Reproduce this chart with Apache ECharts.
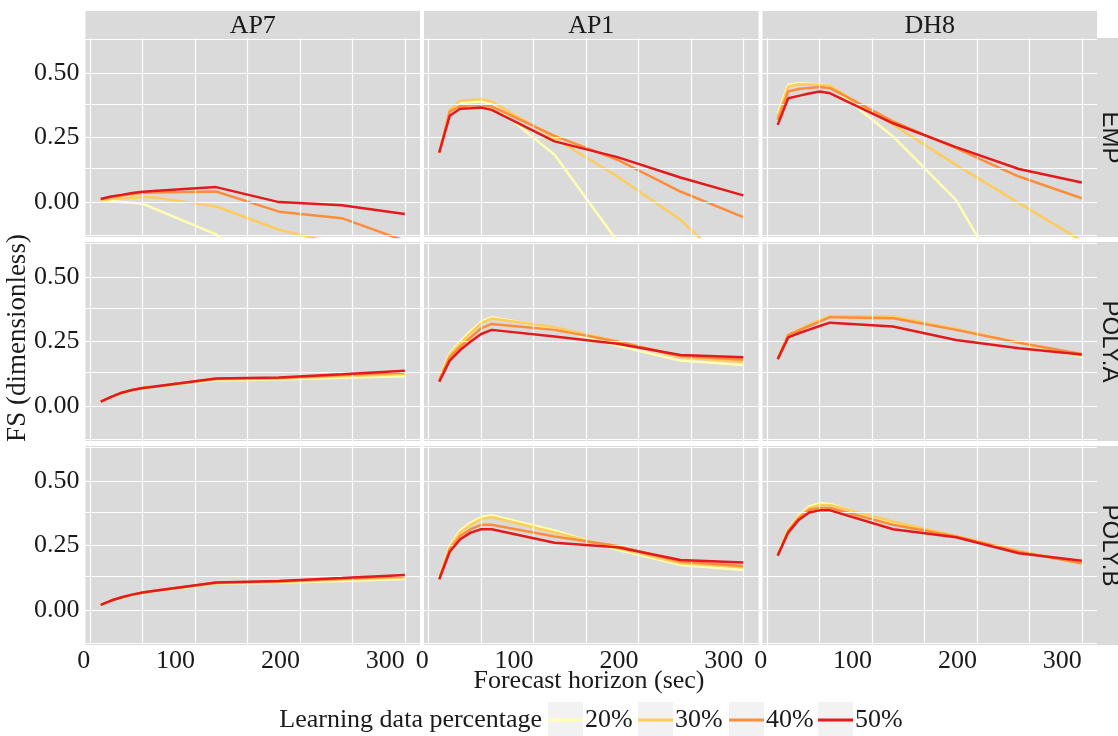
<!DOCTYPE html>
<html><head><meta charset="utf-8">
<script src="https://cdn.jsdelivr.net/npm/echarts@6/dist/echarts.min.js"></script>
<style>html,body{margin:0;padding:0;background:#fff}#c{width:1118px;height:736px}</style>
</head><body><div id="c"></div>
<script>
const horizons = [10, 20, 30, 40, 50, 60, 120, 180, 240, 300];
const sites = ['AP7', 'AP1', 'DH8'];
const methods = ['EMP', 'POLY.A', 'POLY.B'];
const pctLabels = ['20%', '30%', '40%', '50%'];
const pctColors = ['#FFFFB2', '#FECC5C', '#FD8D3C', '#E31A1C'];
const xTicks = [0, 100, 200, 300];
const yTicks = [0, 0.25, 0.5];
const xGridVals = [0, 50, 100, 150, 200, 250, 300];
const yGridVals = [-0.125, 0, 0.125, 0.25, 0.375, 0.5, 0.625];

// each panel: rows = 20%, 30%, 40%, 50%
const EMP_AP7 = [
  [0.004, 0.003, 0.0, -0.002, -0.006, -0.023, -0.125, -0.32, -0.5, -0.7],
  [0.006, 0.012, 0.015, 0.017, 0.019, 0.019, -0.017, -0.107, -0.165, -0.24],
  [0.012, 0.02, 0.026, 0.031, 0.035, 0.037, 0.041, -0.037, -0.062, -0.15],
  [0.012, 0.022, 0.028, 0.035, 0.04, 0.043, 0.058, 0.0, -0.012, -0.046]
];
const EMP_AP1 = [
  [0.19, 0.353, 0.383, 0.387, 0.389, 0.38, 0.183, -0.152, -0.5, -0.85],
  [0.19, 0.357, 0.392, 0.395, 0.398, 0.389, 0.247, 0.099, -0.068, -0.3],
  [0.19, 0.35, 0.372, 0.374, 0.376, 0.37, 0.256, 0.164, 0.041, -0.058],
  [0.192, 0.334, 0.361, 0.363, 0.366, 0.357, 0.235, 0.174, 0.095, 0.026]
];
const EMP_DH8 = [
  [0.344, 0.454, 0.46, 0.458, 0.456, 0.45, 0.254, 0.009, -0.41, -0.8],
  [0.331, 0.447, 0.456, 0.455, 0.454, 0.45, 0.3, 0.144, -0.004, -0.15],
  [0.318, 0.428, 0.438, 0.442, 0.445, 0.441, 0.312, 0.209, 0.099, 0.015],
  [0.299, 0.402, 0.411, 0.42, 0.428, 0.421, 0.305, 0.213, 0.128, 0.076]
];
const POLYA_AP7 = [
  [0.017, 0.035, 0.05, 0.06, 0.068, 0.073, 0.1, 0.103, 0.11, 0.116],
  [0.017, 0.036, 0.051, 0.061, 0.069, 0.074, 0.104, 0.107, 0.116, 0.124],
  [0.017, 0.036, 0.052, 0.062, 0.07, 0.075, 0.106, 0.109, 0.12, 0.13],
  [0.017, 0.036, 0.052, 0.062, 0.07, 0.075, 0.107, 0.111, 0.123, 0.137]
];
const POLYA_AP1 = [
  [0.111, 0.204, 0.25, 0.29, 0.327, 0.344, 0.301, 0.233, 0.176, 0.159],
  [0.107, 0.198, 0.243, 0.282, 0.321, 0.339, 0.305, 0.25, 0.189, 0.171],
  [0.1, 0.189, 0.23, 0.266, 0.301, 0.318, 0.295, 0.25, 0.194, 0.179],
  [0.094, 0.176, 0.217, 0.25, 0.279, 0.295, 0.269, 0.241, 0.198, 0.189]
];
const POLYA_DH8 = [
  [0.185, 0.277, 0.295, 0.312, 0.33, 0.346, 0.343, 0.297, 0.246, 0.191],
  [0.185, 0.277, 0.296, 0.315, 0.333, 0.349, 0.347, 0.298, 0.246, 0.195],
  [0.184, 0.275, 0.293, 0.31, 0.327, 0.344, 0.34, 0.295, 0.245, 0.202],
  [0.181, 0.266, 0.282, 0.296, 0.31, 0.323, 0.308, 0.256, 0.224, 0.2]
];
const POLYB_AP7 = [
  [0.02, 0.036, 0.048, 0.058, 0.066, 0.072, 0.102, 0.106, 0.113, 0.12],
  [0.02, 0.037, 0.049, 0.059, 0.067, 0.073, 0.104, 0.109, 0.118, 0.126],
  [0.02, 0.037, 0.05, 0.06, 0.068, 0.074, 0.106, 0.111, 0.121, 0.131],
  [0.02, 0.037, 0.05, 0.06, 0.068, 0.074, 0.107, 0.113, 0.124, 0.136]
];
const POLYB_AP1 = [
  [0.128, 0.248, 0.309, 0.339, 0.36, 0.367, 0.308, 0.233, 0.175, 0.155],
  [0.126, 0.243, 0.3, 0.33, 0.352, 0.36, 0.3, 0.239, 0.181, 0.166],
  [0.123, 0.235, 0.287, 0.313, 0.33, 0.33, 0.285, 0.248, 0.188, 0.171],
  [0.119, 0.226, 0.274, 0.3, 0.313, 0.313, 0.261, 0.243, 0.194, 0.184]
];
const POLYB_DH8 = [
  [0.22, 0.313, 0.365, 0.401, 0.414, 0.411, 0.334, 0.282, 0.226, 0.184],
  [0.218, 0.31, 0.36, 0.395, 0.407, 0.407, 0.343, 0.287, 0.229, 0.179],
  [0.214, 0.307, 0.356, 0.388, 0.395, 0.395, 0.33, 0.285, 0.226, 0.181],
  [0.21, 0.3, 0.349, 0.378, 0.386, 0.386, 0.313, 0.282, 0.22, 0.191]
];
const panels = [
  [EMP_AP7, EMP_AP1, EMP_DH8],
  [POLYA_AP7, POLYA_AP1, POLYA_DH8],
  [POLYB_AP7, POLYB_AP1, POLYB_DH8]
];

// layout
const colLeft = [85.5, 424, 762.5];
const panelW = 334.5;
const rowTop = [38, 242, 446];
const panelH = 199;
const serif = 'Liberation Serif';
const sans = 'Liberation Sans';
const textCol = '#1a1a1a';
const panelBg = '#dadada';

const grids = [], xAxes = [], yAxes = [], series = [], graphics = [];
for (let r = 0; r < 3; r++) {
  for (let c = 0; c < 3; c++) {
    const idx = r * 3 + c;
    grids.push({
      left: colLeft[c], top: rowTop[r], width: panelW, height: panelH,
      show: true, backgroundColor: panelBg, borderWidth: 0, containLabel: false
    });
    xAxes.push({
      type: 'value', gridIndex: idx, min: -4.5, max: 314.5,
      axisLine: { show: false }, splitLine: { show: false },
      axisTick: { show: r === 2, customValues: xTicks, length: 4, lineStyle: { color: '#333', width: 1 } },
      axisLabel: {
        show: r === 2, customValues: xTicks, margin: 3, align: 'right',
        fontFamily: serif, fontSize: 26, color: textCol,
        formatter: v => String(v)
      }
    });
    yAxes.push({
      type: 'value', gridIndex: idx, min: -0.135, max: 0.635,
      axisLine: { show: false }, splitLine: { show: false },
      axisTick: { show: c === 0, customValues: yTicks, length: 4, lineStyle: { color: '#333', width: 1 } },
      axisLabel: {
        show: c === 0, customValues: yTicks, margin: 6,
        fontFamily: serif, fontSize: 26, color: textCol,
        formatter: v => v.toFixed(2)
      }
    });
    // grid lines
    series.push({
      type: 'line', xAxisIndex: idx, yAxisIndex: idx, data: [], z: 1,
      silent: true, animation: false,
      markLine: {
        silent: true, symbol: ['none', 'none'], label: { show: false }, animation: false,
        lineStyle: { color: '#ffffff', width: 1.2, type: 'solid', opacity: 1 },
        emphasis: { disabled: true },
        data: xGridVals.map(v => ({ xAxis: v })).concat(yGridVals.map(v => ({ yAxis: v })))
      }
    });
    const pd = panels[r][c];
    for (let k = 0; k < 4; k++) {
      series.push({
        name: pctLabels[k], type: 'line', xAxisIndex: idx, yAxisIndex: idx,
        data: horizons.map((h, i) => [h, pd[k][i]]),
        showSymbol: false, symbol: 'none', smooth: false, clip: true, z: 2 + k,
        lineStyle: { color: pctColors[k], width: 2.5 },
        itemStyle: { color: pctColors[k] },
        emphasis: { disabled: true }, animation: false
      });
    }
  }
}

// strips
for (let c = 0; c < 3; c++) {
  graphics.push({ type: 'rect', shape: { x: colLeft[c], y: 11, width: panelW, height: 27 }, style: { fill: panelBg }, silent: true });
  graphics.push({ type: 'text', x: colLeft[c] + panelW / 2, y: 26.5,
    style: { text: sites[c], fill: textCol, font: '26px "' + serif + '"', textAlign: 'center', textVerticalAlign: 'middle' }, silent: true });
}
for (let r = 0; r < 3; r++) {
  graphics.push({ type: 'rect', shape: { x: 1097, y: rowTop[r], width: 30, height: panelH }, style: { fill: panelBg }, silent: true });
  graphics.push({ type: 'text', x: 1110, y: rowTop[r] + panelH / 2, rotation: -Math.PI / 2,
    style: { text: methods[r], fill: textCol, font: '24px "' + sans + '"', textAlign: 'center', textVerticalAlign: 'middle' }, silent: true });
}
// axis titles
graphics.push({ type: 'text', x: 589, y: 681,
  style: { text: 'Forecast horizon (sec)', fill: textCol, font: '26px "' + serif + '"', textAlign: 'center', textVerticalAlign: 'middle' }, silent: true });
graphics.push({ type: 'text', x: 18, y: 338, rotation: Math.PI / 2,
  style: { text: 'FS (dimensionless)', fill: textCol, font: '27px "' + serif + '"', textAlign: 'center', textVerticalAlign: 'middle' }, silent: true });
// legend
graphics.push({ type: 'text', x: 542, y: 720,
  style: { text: 'Learning data percentage', fill: textCol, font: '26px "' + serif + '"', textAlign: 'right', textVerticalAlign: 'middle' }, silent: true });
const legendX = [548, 638, 729, 818];
const legends = [];
for (let k = 0; k < 4; k++) {
  graphics.push({ type: 'rect', shape: { x: legendX[k], y: 702, width: 35, height: 34 }, style: { fill: '#f2f2f2' }, silent: true, z: -1 });
  legends.push({
    data: [pctLabels[k]], left: legendX[k], top: 707, padding: 0, itemGap: 0,
    itemWidth: 35, itemHeight: 3, icon: 'rect', selectedMode: false,
    textStyle: { fontFamily: serif, fontSize: 26, color: textCol, padding: [0, 0, 0, -3] }
  });
}

const chart = echarts.init(document.getElementById('c'), null, { renderer: 'canvas' });
chart.setOption({
  animation: false,
  backgroundColor: '#ffffff',
  grid: grids, xAxis: xAxes, yAxis: yAxes, series: series,
  legend: legends,
  graphic: { elements: graphics }
});
</script>
</body></html>
